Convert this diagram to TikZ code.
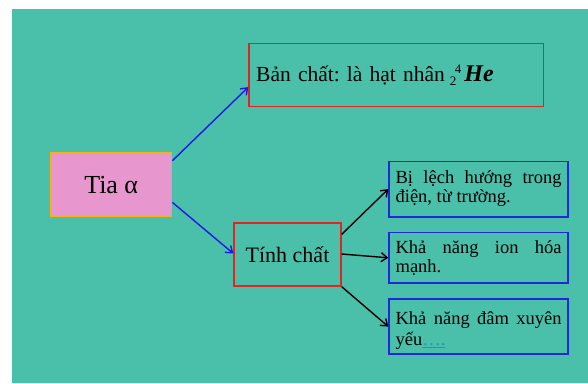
\documentclass[tikz,border=0pt]{standalone}
\usepackage{fontspec}
\setmainfont{Liberation Serif}
\usetikzlibrary{arrows.meta}

\definecolor{bgteal}{RGB}{74,192,170}
\definecolor{tiapink}{RGB}{232,150,206}
\definecolor{tiaedge}{RGB}{240,178,20}
\definecolor{rededge}{RGB}{228,36,36}
\definecolor{blueedge}{RGB}{32,40,218}
\definecolor{bluearrow}{RGB}{24,24,232}
\definecolor{dotcol}{RGB}{30,150,200}

\begin{document}
\frenchspacing
\hyphenpenalty=10000 \exhyphenpenalty=10000
\begin{tikzpicture}[x=1pt,y=-1pt,
  box/.style={draw, inner ysep=0pt, anchor=north west},
  redbox/.style={box, draw=rededge, line width=1.4pt},
  infobox/.style={box, draw=blueedge, line width=1.6pt,
    minimum width=179pt, text width=166pt, inner xsep=6.5pt, align=justify,
    font=\fontsize{18.5}{19}\selectfont},
  bluelink/.style={draw=bluearrow, line width=1.4pt,
    -{Straight Barb[length=6pt,width=9pt]}},
  blacklink/.style={draw=black, line width=1.4pt,
    -{Straight Barb[length=6pt,width=9pt]}}]
\useasboundingbox (0,0) rectangle (588,383);
\fill[bgteal] (12,9) rectangle (588,383);

% central box
\node[box, fill=tiapink, draw=tiaedge, line width=1.4pt,
  minimum width=121pt, minimum height=64pt, inner xsep=0pt,
  font=\fontsize{26}{28}\selectfont] (tia) at (50,152) {Tia α};

% nature of the ray: helium nucleus with its mass and charge numbers
\node[redbox, minimum width=294.4pt, minimum height=63.3pt,
  text width=280pt, inner xsep=7.2pt, align=left,
  font=\fontsize{21.5}{24}\selectfont] (ban) at (248.3,42.7)
  {Bản chất: là hạt nhân\hspace{5pt}{\fontsize{13}{13}\selectfont\raisebox{-4pt}{2}\hspace{-1.5pt}\raisebox{8pt}{4}}\hspace{3pt}{\fontsize{24}{24}\selectfont\bfseries\itshape He}};

% properties
\node[redbox, minimum width=107pt, minimum height=63pt, inner xsep=0pt,
  font=\fontsize{22}{24}\selectfont] (tinh) at (233.3,222.3) {Tính chất};

\node[infobox, minimum height=55.5pt] (b1) at (388.3,160.5)
  {Bị lệch hướng trong điện, từ trường.};
\node[infobox, minimum height=50.6pt] (b2) at (388.3,231.7)
  {Khả năng ion hóa mạnh.};
\node[infobox, minimum height=55pt,
  font=\fontsize{18.5}{21.7}\selectfont] (b3) at (388.3,298.3)
  {\rule{0pt}{20.5pt}Khả năng đâm xuyên yếu\textcolor{dotcol}{\underline{\smash{….}}}};

% connectors
\draw[bluelink] ([yshift=-8.7pt]tia.north east) -- ([yshift=20.3pt]ban.south west);
\draw[bluelink] ([yshift=15pt]tia.south east) -- ([yshift=1pt]tinh.west);
\draw[blacklink] ([yshift=-12pt]tinh.north east) -- (b1.west);
\draw[blacklink] ([yshift=0.5pt]tinh.east) -- (b2.west);
\draw[blacklink] (tinh.south east) -- (b3.west);
\end{tikzpicture}
\end{document}
